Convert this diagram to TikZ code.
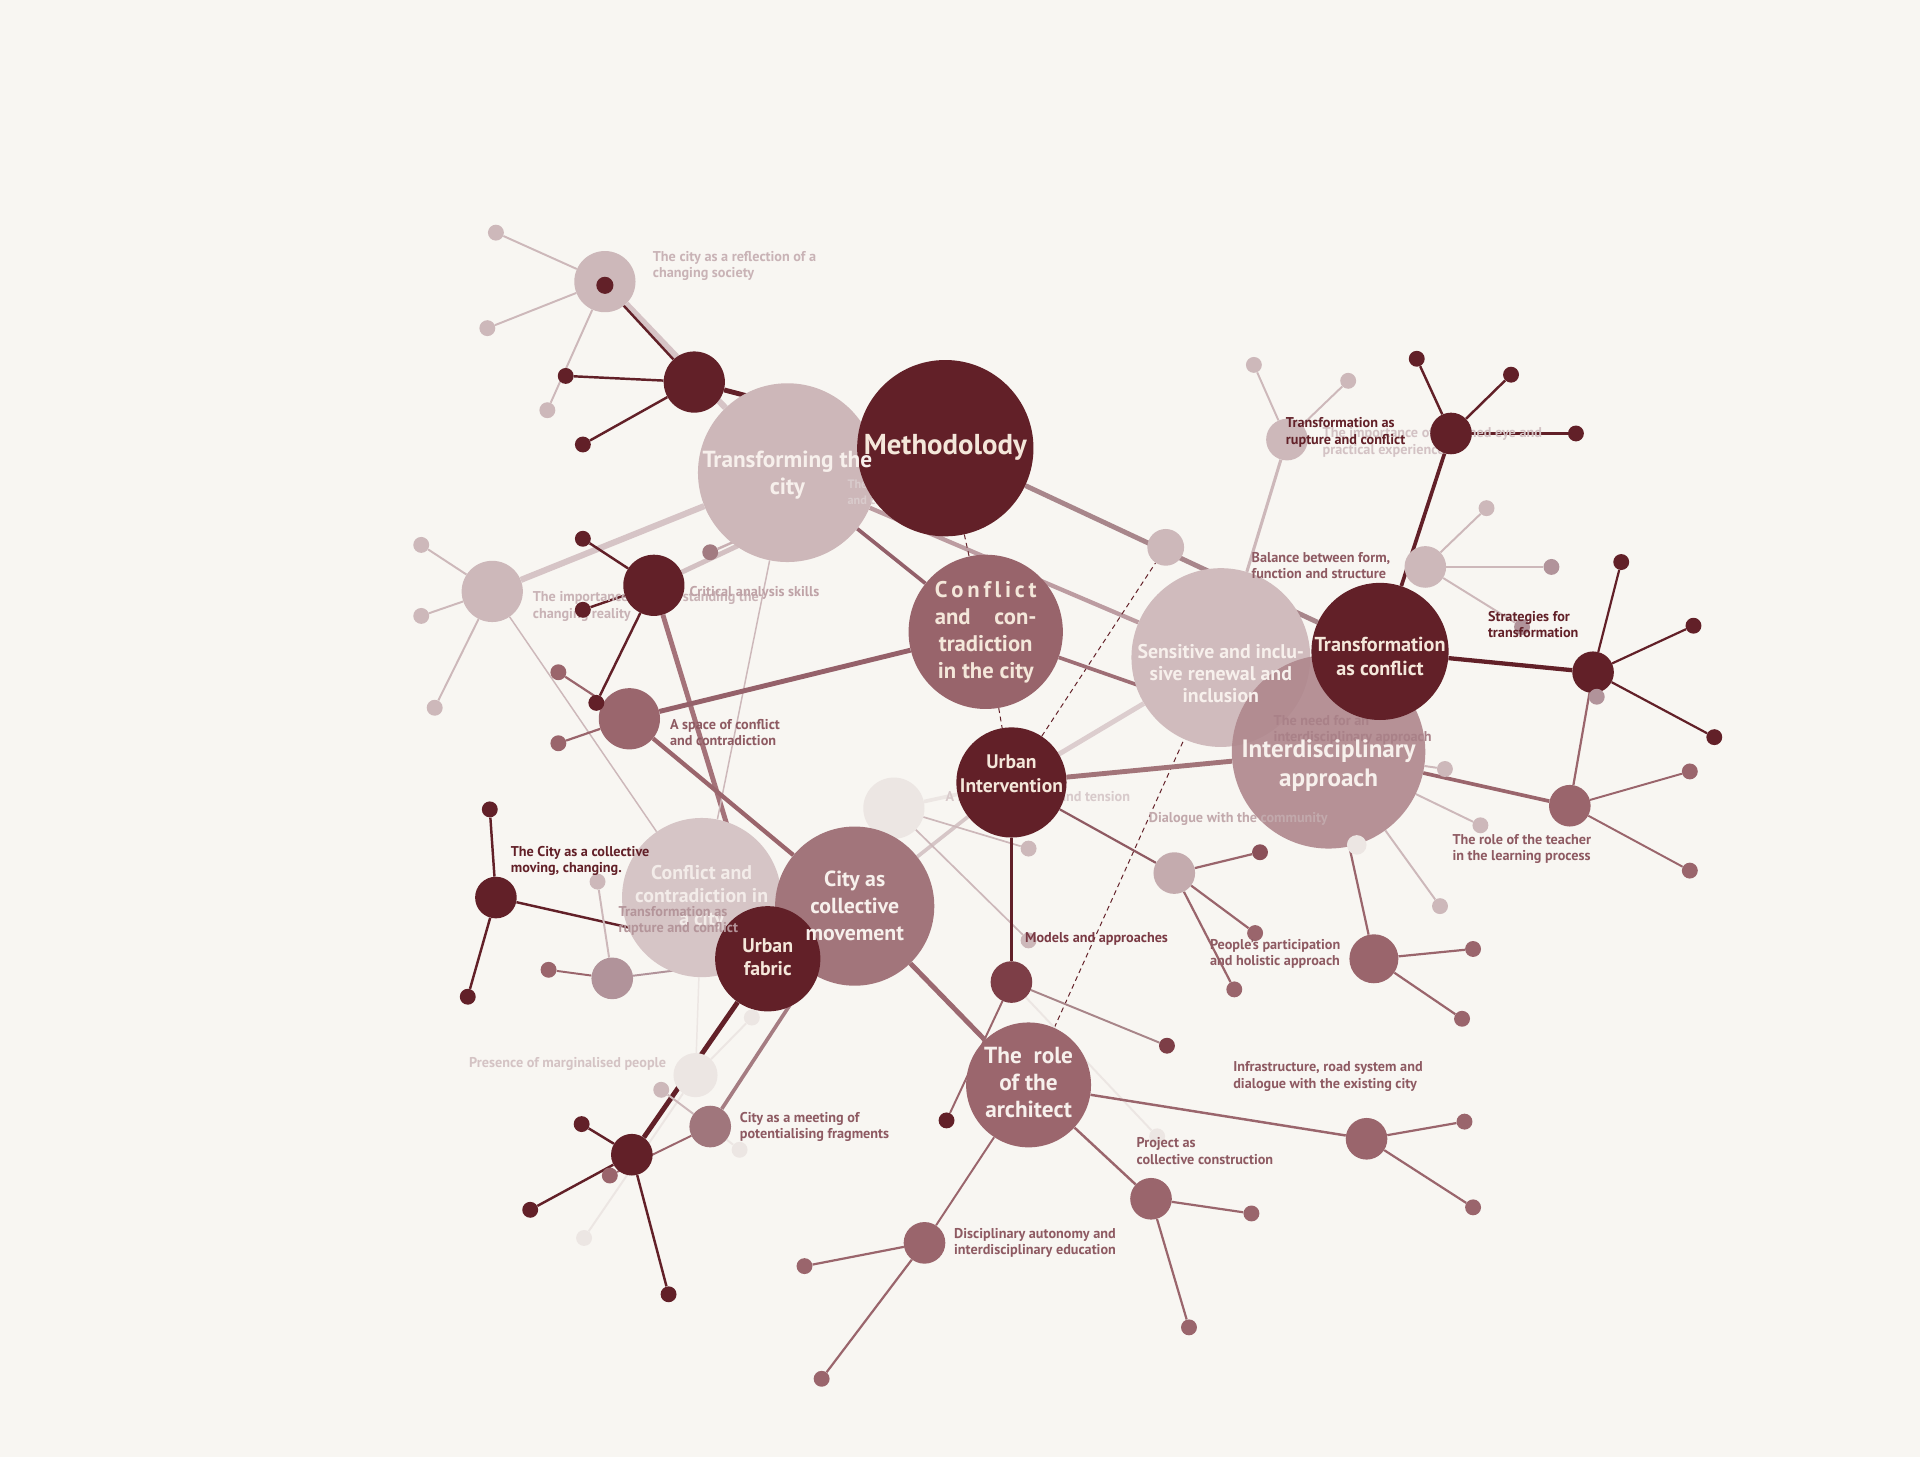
\documentclass[tikz,border=0pt]{standalone}
\usepackage{fontspec}
\setmainfont{PT Sans}
\pgfdeclarelayer{bg}
\pgfdeclarelayer{edges}
\pgfdeclarelayer{front}
\pgfsetlayers{bg,edges,main,front}
\definecolor{bgc}{HTML}{F8F6F2}
\definecolor{dk}{HTML}{622028}
\definecolor{md}{HTML}{9A656C}
\definecolor{mdl}{HTML}{B1939A}
\definecolor{lt}{HTML}{CDB8BA}
\definecolor{vl}{HTML}{ECE6E3}
\definecolor{cr}{HTML}{F4E7DA}
\definecolor{txm}{HTML}{8E5A62}
\definecolor{txl}{HTML}{C9B3B6}
\newcommand\dcol[1]{\definecolor{c#1}{HTML}{#1}}
\dcol{D6C5C6}\dcol{CDB7B9}\dcol{D9CBCC}\dcol{98646B}\dcol{D0BBBD}\dcol{AF878D}
\dcol{A98188}\dcol{A2757B}\dcol{9B666D}\dcol{9A666D}\dcol{C4ABAE}\dcol{7D3E47}
\dcol{A0767C}\dcol{A27B81}\dcol{8A5059}\dcol{D6C4C6}\dcol{D3C0C2}\dcol{C8AFB2}
\dcol{A47279}\dcol{93606A}\dcol{BC9CA1}\dcol{A8868B}\dcol{95616A}\dcol{9E6E75}
\dcol{A27479}\dcol{DCCDCE}\dcol{D6C6C7}\dcol{8F5A62}\dcol{A88589}\dcol{9B6870}
\dcol{A57C82}\dcol{D3C2C4}\dcol{D8CACB}\dcol{F7F0EC}\dcol{F3ECE9}\dcol{C2A9AC}
\dcol{7A3A44}\dcol{D4C3C4}\dcol{B4959A}\dcol{BFA3A7}
\newcommand\bb[4]{\node[bub,fill=#4,minimum size=#3*2pt] (#1) at (#2) {};}
\begin{document}
\begin{tikzpicture}[x=1pt,y=-1pt,
  bub/.style={circle,inner sep=0pt,draw=none},
  lab/.style={anchor=north west,align=left,inner sep=0pt,font=\bfseries\fontsize{11.6}{13.4}\selectfont},
  big/.style={align=center,inner sep=0pt,text=cr,font=\bfseries\fontsize{16}{22}\selectfont},
  ld/.style={draw=dk,line width=2pt},
  lm/.style={draw=md,line width=1.8pt},
  ll/.style={draw=lt,line width=1.6pt},
  lv/.style={draw=vl,line width=1.6pt},
  dsh/.style={draw=dk,line width=0.8pt,dash pattern=on 4pt off 3pt}]
\begin{pgfonlayer}{bg}
\fill[bgc] (0,0) rectangle (1568,1190);
\end{pgfonlayer}
\useasboundingbox (0,0) rectangle (1568,1190);

% ---------- back circles
\bb{h20}{730,660}{25}{vl}
\bb{h19}{568,878}{18}{vl}
\bb{cca}{573,733}{65}{cD6C5C6}
\bb{trans}{643,386}{73}{cCDB7B9}
\node[lab,text=cD9CBCC,font=\bfseries\fontsize{10}{13}\selectfont] (t21) at (692,392) {The city as a collective\\and change};
\bb{meth}{772,366}{72}{dk}
\bb{confl}{805,516}{63}{c98646B}
\bb{sens}{997,537}{73}{cD0BBBD}
\node[bub,fill=cAF878D,fill opacity=0.9,minimum size=158pt] (inter) at (1085,614) {};
\node[lab,text=cA98188] (t6) at (1040,584) {The need for an\\interdisciplinary approach};
\bb{tac}{1127,532}{56}{dk}
\bb{ccm}{698,740}{65}{cA2757B}
\bb{uf}{627,783}{43}{dk}
\bb{ui}{826,639}{45}{dk}
\bb{arch}{840,886}{51}{c9B666D}

% ---------- hubs
\bb{h1}{494,230}{25}{lt}
\bb{h1d}{494,233}{7}{dk}
\bb{h2}{567,312}{25}{dk}
\bb{h3}{402,483}{25}{lt}
\bb{h4}{534,478}{25}{dk}
\bb{h5}{514,587}{25}{c9A666D}
\bb{h6}{1051,359}{17}{lt}
\bb{h7}{1185,354}{17}{dk}
\bb{h8}{952,447}{15}{lt}
\bb{h9}{1164,463}{17}{lt}
\bb{h10}{1301,549}{17}{dk}
\bb{h11}{1282,658}{17}{md}
\bb{h12}{959,713}{17}{cC4ABAE}
\bb{h13}{1122,783}{20}{md}
\bb{h14}{826,802}{17}{c7D3E47}
\bb{h15}{405,733}{17}{dk}
\bb{h16}{500,799}{17}{mdl}
\bb{h17}{580,920}{17}{cA0767C}
\bb{h18}{516,943}{17}{dk}
\bb{h21}{1116,930}{17}{md}
\bb{h22}{940,979}{17}{md}
\bb{h23}{755,1015}{17}{md}

% ---------- small dots
\bb{a1}{405,190}{6.5}{lt}
\bb{a2}{398,268}{6.5}{lt}
\bb{a3}{447,335}{6.5}{lt}
\bb{b1}{462,307}{6.5}{dk}
\bb{b2}{476,363}{6.5}{dk}
\bb{c1}{344,445}{6.5}{lt}
\bb{c2}{344,503}{6.5}{lt}
\bb{c3}{355,578}{6.5}{lt}
\bb{d1}{476,440}{6.5}{dk}
\bb{d2}{476,498}{6.5}{dk}
\bb{d3}{487,574}{6.5}{dk}
\bb{e1}{580,451}{6.5}{cA27B81}
\bb{f1}{456,549}{6.5}{md}
\bb{f2}{456,607}{6.5}{md}
\bb{g1}{1024,298}{6.5}{lt}
\bb{g2}{1101,311}{6.5}{lt}
\bb{k1}{1157,293}{6.5}{dk}
\bb{k2}{1234,306}{6.5}{dk}
\bb{k3}{1287,354}{6.5}{dk}
\bb{m1}{1214,415}{6.5}{lt}
\bb{m2}{1267,463}{6.5}{mdl}
\bb{m3}{1243,512}{6.5}{mdl}
\bb{n1}{1324,459}{6.5}{dk}
\bb{n2}{1383,511}{6.5}{dk}
\bb{n3}{1400,602}{6.5}{dk}
\bb{n4}{1304,569}{6.5}{mdl}
\bb{p1}{1380,630}{6.5}{md}
\bb{p2}{1380,711}{6.5}{md}
\bb{q1}{1180,628}{6.5}{lt}
\bb{q2}{1209,674}{6.5}{lt}
\bb{q3}{1176,740}{6.5}{lt}
\bb{q4}{1108,690}{8}{vl}
\bb{r1}{1203,775}{6.5}{md}
\bb{r2}{1194,832}{6.5}{md}
\bb{s1}{1029,696}{6.5}{c8A5059}
\bb{s2}{1025,762}{6.5}{md}
\bb{s3}{1008,808}{6.5}{md}
\bb{t1}{840,693}{6.5}{lt}
\bb{t2}{840,768}{6.5}{lt}
\bb{u1}{953,854}{6.5}{c7D3E47}
\bb{u2}{773,915}{6.5}{dk}
\bb{u3}{945,928}{6.5}{vl}
\bb{v1}{1196,916}{6.5}{md}
\bb{v2}{1203,986}{6.5}{md}
\bb{w1}{1022,991}{6.5}{md}
\bb{w2}{971,1084}{6.5}{md}
\bb{x1}{657,1034}{6.5}{md}
\bb{x2}{671,1126}{6.5}{md}
\bb{y1}{400,661}{6.5}{dk}
\bb{y2}{382,814}{6.5}{dk}
\bb{z1}{448,792}{6.5}{md}
\bb{z2}{488,720}{6.5}{lt}
\bb{aa1}{540,890}{6.5}{lt}
\bb{aa2}{604,939}{6.5}{vl}
\bb{aa3}{498,960}{6.5}{md}
\bb{bb1}{475,918}{6.5}{dk}
\bb{bb2}{433,988}{6.5}{dk}
\bb{bb3}{546,1057}{6.5}{dk}
\bb{bb4}{477,1011}{6.5}{vl}
\bb{cc1}{614,831}{6.5}{vl}

% ---------- connectors
\begin{pgfonlayer}{edges}
\draw[ll,line width=5pt,draw=cD6C4C6] (h1) -- (trans);
\draw[ll,line width=5pt,draw=cD6C4C6] (h3) -- (trans);
\draw[ll,line width=4pt,draw=cD3C0C2] (h4) -- (meth);
\draw[ll,line width=2pt,draw=cC8AFB2] (e1) -- (meth);
\draw[ll] (h1) -- (a1); \draw[ll] (h1) -- (a2); \draw[ll] (h1) -- (a3);
\draw[ld] (h1d) -- (h2);
\draw[ld] (h2) -- (b1); \draw[ld] (h2) -- (b2);
\draw[ld,line width=4pt] (h2) -- (meth);
\draw[ll] (h3) -- (c1); \draw[ll] (h3) -- (c2); \draw[ll] (h3) -- (c3);
\draw[ll,line width=1.2pt] (h3) -- (cca);
\draw[ld] (h4) -- (d1); \draw[ld] (h4) -- (d2); \draw[ld] (h4) -- (d3);
\draw[lm,line width=4pt,draw=cA47279] (h4) -- (uf);
\draw[ll,line width=1.2pt] (trans) -- (cca);
\draw[lm,line width=3pt,draw=c93606A] (trans) -- (confl);
\draw[lm,line width=3.5pt,draw=cBC9CA1] (trans) -- (sens);
\draw[lm,line width=4pt,draw=cA8868B] (meth) -- (tac);
\draw[dsh] (meth) -- (confl);
\draw[dsh] (confl) -- (ui);
\draw[dsh] (ui) -- (h8);
\draw[dsh] (arch) -- (sens);
\draw[lm,line width=4pt,draw=c95616A] (confl) -- (h5);
\draw[lm,line width=3pt,draw=c9E6E75] (confl) -- (inter);
\draw[lm] (h5) -- (f1); \draw[lm] (h5) -- (f2);
\draw[lm,line width=3.5pt] (h5) -- (ccm);
\draw[lm,line width=4pt,draw=cA27479] (ui) -- (inter);
\draw[ll,line width=4pt,draw=cDCCDCE] (ui) -- (sens);
\draw[ll,line width=3pt,draw=cD6C6C7] (ccm) -- (ui);
\draw[lv,line width=3pt] (h20) -- (ui);
\draw[ll,line width=1.4pt] (h20) -- (t1); \draw[ll,line width=1.4pt] (h20) -- (t2);
\draw[ld,line width=3pt] (ui) -- (h14);
\draw[lm,draw=c8F5A62] (ui) -- (h12);
\draw[lm] (h12) -- (s1); \draw[lm] (h12) -- (s2); \draw[lm] (h12) -- (s3);
\draw[lm,line width=1.6pt,draw=cA88589] (h14) -- (u1);
\draw[lm,line width=1.6pt] (h14) -- (u2);
\draw[lv] (h14) -- (u3);
\draw[lm,line width=4pt,draw=c9B6870] (ccm) -- (arch);
\draw[lm,line width=2pt] (arch) -- (h21);
\draw[lm,line width=2pt] (arch) -- (h22);
\draw[lm,line width=1.6pt] (arch) -- (h23);
\draw[lm] (h21) -- (v1); \draw[lm] (h21) -- (v2);
\draw[lm] (h22) -- (w1); \draw[lm] (h22) -- (w2);
\draw[lm] (h23) -- (x1); \draw[lm] (h23) -- (x2);
\draw[ll] (h6) -- (g1); \draw[ll] (h6) -- (g2);
\draw[ll,line width=2.5pt] (h6) -- (sens);
\draw[ld] (h7) -- (k1); \draw[ld] (h7) -- (k2); \draw[ld] (h7) -- (k3);
\draw[ld,line width=3pt] (h7) -- (tac);
\draw[ll] (h9) -- (m1); \draw[ll] (h9) -- (m2); \draw[ll] (h9) -- (m3);
\draw[ld,line width=1.8pt] (h10) -- (n1); \draw[ld,line width=1.8pt] (h10) -- (n2); \draw[ld,line width=1.8pt] (h10) -- (n3);
\draw[ld,line width=3.5pt] (h10) -- (tac);
\draw[lm] (h10) -- (h11);
\draw[lm,line width=1.6pt] (h11) -- (p1); \draw[lm,line width=1.6pt] (h11) -- (p2);
\draw[lm,line width=3pt] (h11) -- (inter);
\draw[ll] (inter) -- (q1); \draw[ll] (inter) -- (q2); \draw[ll] (inter) -- (q3);
\draw[lv] (inter) -- (q4);
\draw[lm] (inter) -- (h13);
\draw[lm] (h13) -- (r1); \draw[lm] (h13) -- (r2);
\draw[ld] (h15) -- (y1); \draw[ld] (h15) -- (y2);
\draw[ld] (h15) -- (uf);
\draw[lm,line width=1.6pt] (h16) -- (z1);
\draw[ll] (h16) -- (z2);
\draw[lm,line width=1.6pt,draw=mdl] (h16) -- (uf);
\draw[ld,line width=4pt] (uf) -- (h18);
\draw[ld] (h18) -- (bb1); \draw[ld] (h18) -- (bb2); \draw[ld] (h18) -- (bb3);
\draw[lv] (h19) -- (bb4);
\draw[lm,line width=3pt,draw=cA57C82] (h17) -- (ccm);
\draw[ll] (h17) -- (aa1); \draw[lv] (h17) -- (aa2); \draw[lm,line width=1.6pt] (h17) -- (aa3);
\draw[lv] (h19) -- (cc1);
\draw[lv,line width=1.2pt] (cca) -- (h19);
% hidden labels behind circles
\node[lab,text=cD3C2C4] (t3) at (1080,349) {The importance of a trained eye and\\practical experience};
\node[lab,text=txl] (t19) at (435,483) {The importance of understanding the\\changing reality};
\node[lab,text=cD8CACB] (t22) at (772,646) {A space of conflict and tension};
\end{pgfonlayer}

% ---------- big labels
\begin{pgfonlayer}{front}
\node[big,font=\bfseries\fontsize{23.5}{28}\selectfont] (lm1) at (772,365) {Methodolody};
\node[big,text=cF7F0EC,font=\bfseries\fontsize{19}{22}\selectfont] (lm2) at (643,388) {Transforming the\\city};
\node[big,font=\bfseries\fontsize{18.5}{22}\selectfont] (lm3) at (805,516) {%
\makebox[83pt]{C\hfill o\hfill n\hfill f\hfill l\hfill i\hfill c\hfill t}\\
\makebox[83pt]{and\hfill con-}\\
\makebox[83pt]{tradiction}\\
\makebox[83pt]{in the city}};
\node[big,font=\bfseries\fontsize{16}{19}\selectfont] (lm4) at (826,632) {Urban\\Intervention};
\node[big,text=cF7F0EC,font=\bfseries\fontsize{16.2}{18}\selectfont] (lm5) at (997,550) {Sensitive and inclu-\\sive renewal and\\inclusion};
\node[big,font=\bfseries\fontsize{16.5}{19}\selectfont] (lm6) at (1127,536) {Transformation\\as conflict};
\node[big,text=cF7F0EC,font=\bfseries\fontsize{20.5}{24}\selectfont] (lm7) at (1085,625) {Interdisciplinary\\approach};
\node[big,text=cF7F0EC,font=\bfseries\fontsize{17.8}{22}\selectfont] (lm8) at (698,740) {City as\\collective\\movement};
\node[big,text=cF3ECE9,font=\bfseries\fontsize{16.2}{19}\selectfont] (lm9) at (573,733) {Conflict and\\contradiction in\\a city};
\node[big,font=\bfseries\fontsize{16.2}{19}\selectfont] (lm10) at (627,782) {Urban\\fabric};
\node[big,text=cF7F0EC,font=\bfseries\fontsize{19}{22}\selectfont] (lm11) at (840,884) {The\ \ role\\of the\\architect};

% ---------- small labels
\node[lab,text=txl] (t1) at (533,205) {The city as a reflection of a\\changing society};
\node[lab,text=dk] (t2) at (1050,341) {Transformation as\\rupture and conflict};
\node[lab,text=txm] (t4) at (1022,451) {Balance between form,\\function and structure};
\node[lab,text=dk] (t5) at (1215,499) {Strategies for\\transformation};
\node[lab,text=txm] (t7) at (1186,681) {The role of the teacher\\in the learning process};
\node[lab,text=cC2A9AC] (t8) at (938,663) {Dialogue with the community};
\node[lab,text=txm] (t9) at (988,767) {People's participation\\and holistic approach};
\node[lab,text=c7A3A44] (t10) at (837,761) {Models and approaches};
\node[lab,text=txm] (t11) at (1007,867) {Infrastructure, road system and\\dialogue with the existing city};
\node[lab,text=txm] (t12) at (928,929) {Project as\\collective construction};
\node[lab,text=txm] (t13) at (779,1003) {Disciplinary autonomy and\\interdisciplinary education};
\node[lab,text=txm] (t14) at (604,908) {City as a meeting of\\potentialising fragments};
\node[lab,text=cD4C3C4] (t15) at (383,863) {Presence of marginalised people};
\node[lab,text=cB4959A] (t16) at (505,740) {Transformation as\\rupture and conflict};
\node[lab,text=dk] (t17) at (417,691) {The City as a collective\\moving, changing.};
\node[lab,text=txm] (t18) at (547,587) {A space of conflict\\and contradiction};
\node[lab,text=cBFA3A7] (t20) at (563,479) {Critical analysis skills};
\end{pgfonlayer}
\end{tikzpicture}
\end{document}
